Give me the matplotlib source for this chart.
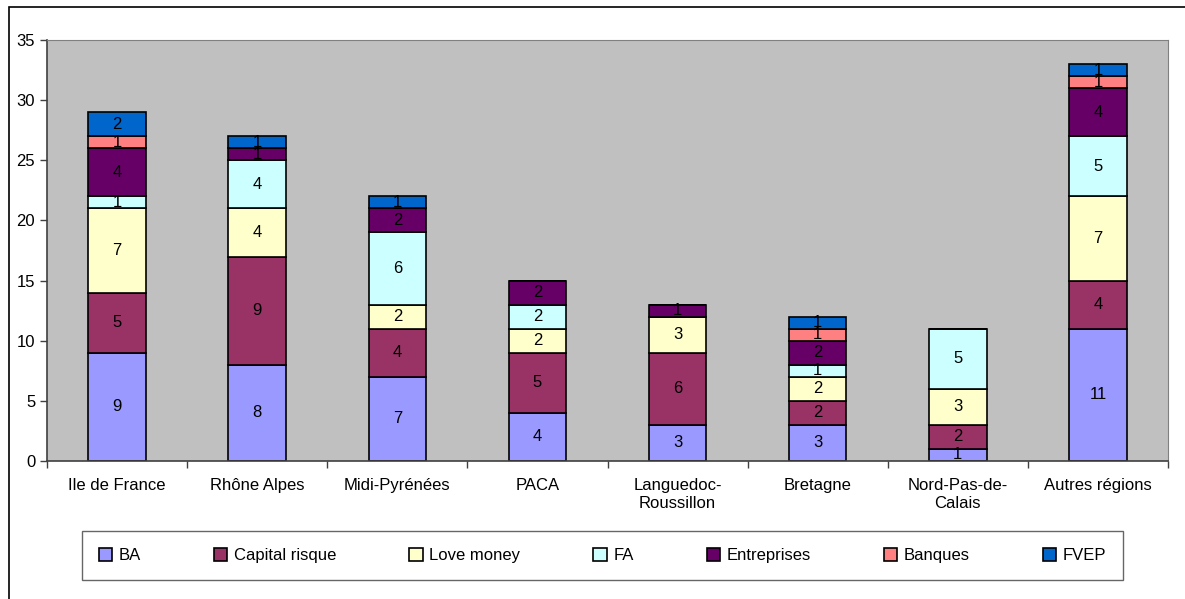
import matplotlib.pyplot as plt
import numpy as np
from matplotlib.patches import Rectangle

plt.rcParams['font.family'] = ['Liberation Sans', 'DejaVu Sans']

regions = ['Ile de France', 'Rhône Alpes', 'Midi-Pyrénées', 'PACA',
           'Languedoc-\nRoussillon', 'Bretagne', 'Nord-Pas-de-\nCalais', 'Autres régions']

ba = [9, 8, 7, 4, 3, 3, 1, 11]
capital_risque = [5, 9, 4, 5, 6, 2, 2, 4]
love_money = [7, 4, 2, 2, 3, 2, 3, 7]
fa = [1, 4, 6, 2, 0, 1, 5, 5]
entreprises = [4, 1, 2, 2, 1, 2, 0, 4]
banques = [1, 0, 0, 0, 0, 1, 0, 1]
fvep = [2, 1, 1, 0, 0, 1, 0, 1]

series_names = ['BA', 'Capital risque', 'Love money', 'FA', 'Entreprises', 'Banques', 'FVEP']
series = [ba, capital_risque, love_money, fa, entreprises, banques, fvep]
colors = ['#9999FF', '#993366', '#FFFFCC', '#CCFFFF', '#660066', '#FF8080', '#0066CC']


def main():
    fig = plt.figure(figsize=(11.85, 5.99), dpi=100)
    ax = fig.add_axes([47/1185, 1 - 461/599, (1168 - 47)/1185, (461 - 40)/599])
    ax.set_facecolor('#C0C0C0')

    x = np.arange(len(regions))
    bottom = np.zeros(len(regions))
    for name, vals, col in zip(series_names, series, colors):
        vals = np.array(vals, dtype=float)
        bars = ax.bar(x, vals, 0.41, bottom=bottom, color=col, edgecolor='black',
                      linewidth=1.2, label=name)
        labels = [str(int(v)) if v > 0 else '' for v in vals]
        ax.bar_label(bars, labels=labels, label_type='center', fontsize=12)
        bottom += vals

    ax.set_xlim(-0.5, len(regions) - 0.5)
    ax.set_ylim(0, 35)
    ax.set_yticks(range(0, 36, 5))
    ax.set_xticks(x)
    ax.set_xticklabels(regions, fontsize=12, linespacing=1.3)
    ax.set_xticks(np.arange(-0.5, len(regions)), minor=True)
    ax.tick_params(axis='x', which='major', length=0, pad=12)
    ax.tick_params(axis='x', which='minor', length=5, width=1, color='#404040')
    ax.tick_params(axis='y', length=5, width=1, color='#404040', labelsize=12)

    for side in ['top', 'right']:
        ax.spines[side].set_color('#808080')
    for side in ['left', 'bottom']:
        ax.spines[side].set_color('#404040')
        ax.spines[side].set_linewidth(1.2)

    # outer chart border
    fig.patches.append(Rectangle((9/1185, -0.05), 1.0, 1.05 - 7/599,
                                 transform=fig.transFigure, fill=False,
                                 edgecolor='black', linewidth=1.2))

    leg = fig.legend(loc='center', ncol=7, mode='expand',
                     bbox_to_anchor=(82/1185, 1 - 587/599, (1123 - 82)/1185, 63/599),
                     fontsize=12, frameon=True, fancybox=False, edgecolor='#404040',
                     handlelength=0.8, handleheight=0.8, handletextpad=0.4,
                     borderaxespad=0, borderpad=1.0)
    leg.get_frame().set_linewidth(1.0)

    fig.savefig('out.png', dpi=100)


if __name__ == "__main__":
    main()
